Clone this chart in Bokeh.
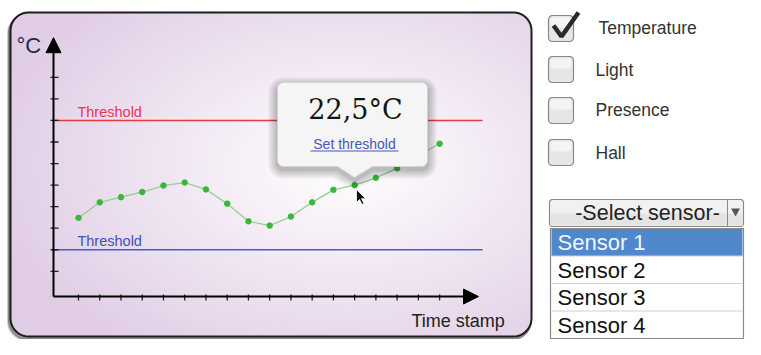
import numpy as np
from bokeh.plotting import figure
from bokeh.models import Range1d, Label, Arrow, NormalHead
from bokeh.embed import file_html
from bokeh.resources import INLINE

# ---------------- data ----------------
time_idx = list(range(1, 19))
temperature = [21.74, 22.10, 22.22, 22.34, 22.49, 22.56, 22.40, 22.07, 21.66,
               21.56, 21.77, 22.10, 22.39, 22.50, 22.67, 22.89, 23.19, 23.46]
y_ticks = [20.5, 21.0, 21.5, 22.0, 22.5, 23.0, 23.5, 24.0, 24.5, 25.0]
x_ticks = list(range(1, 19))
threshold_high = 24.0
threshold_low = 21.0
tooltip_text = "22,5°C"
link_text = "Set threshold"
y_label = "°C"
x_label = "Time stamp"
checkbox_labels = ["Temperature", "Light", "Presence", "Hall"]
checkbox_checked = [True, False, False, False]
select_label = "-Select sensor-"
sensor_options = ["Sensor 1", "Sensor 2", "Sensor 3", "Sensor 4"]
sensor_selected = 0

SANS = "Liberation Sans"
FH = 339


def Y(y):
    return float(FH - y)


def rrect(x0, y0, x1, y1, r, n=10, pointer=None):
    pts = []

    def arc(cx, cy, a0, a1):
        for a in np.linspace(a0, a1, n):
            pts.append((cx + r * np.cos(a), cy + r * np.sin(a)))

    arc(x0 + r, y0 + r, np.pi, 1.5 * np.pi)
    arc(x1 - r, y0 + r, 1.5 * np.pi, 2 * np.pi)
    arc(x1 - r, y1 - r, 0, 0.5 * np.pi)
    if pointer:
        pts.extend(pointer)
    arc(x0 + r, y1 - r, 0.5 * np.pi, np.pi)
    pts.append(pts[0])
    xs = [q[0] for q in pts]
    ys = [FH - q[1] for q in pts]
    return xs, ys


def text(x, y_base, s, size, color, font=SANS, align="left", **kw):
    # y_base = alphabetic baseline in picture pixels; anchor at em-box centre
    return Label(x=x, y=Y(y_base - 0.35 * size), text=s, text_font=font,
                 text_font_size=f"{size}px", text_color=color, text_align=align,
                 text_baseline="middle", **kw)


p = figure(width=745, height=339, output_backend="svg", toolbar_location=None,
           x_range=Range1d(0, 745), y_range=Range1d(0, 339), min_border=0,
           x_axis_location=None, y_axis_location=None, outline_line_color=None,
           background_fill_color="white", border_fill_color="white")
p.xgrid.visible = False
p.ygrid.visible = False
p.extra_x_ranges = {"data": Range1d(-2.672, 32.40)}
p.extra_y_ranges = {"data": Range1d(18.918, 26.783)}
D = dict(x_range_name="data", y_range_name="data")

# ---------------- panel ----------------
PX0, PY0, PX1, PY1, PR = 10, 12, 531, 336, 18
for dx, dy, a in [(-2, 3, 0.25), (-1, 2, 0.45)]:
    xs, ys = rrect(PX0 + dx, PY0 + dy, PX1 + dx, PY1 + dy, PR)
    p.line(xs, ys, line_color="#333333", line_width=3, line_alpha=a)

Wd, Hd = PX1 - PX0, PY1 - PY0
gx = PX0 + np.arange(Wd) + 0.5
gy = PY1 - (np.arange(Hd) + 0.5)
GX, GY = np.meshgrid(gx, gy)
d = np.sqrt(((GX - 345) / 370.0) ** 2 + ((GY - 165) / 235.0) ** 2)
t = np.clip((d - 0.08) / 0.92, 0, 1)
c0 = np.array([253, 251, 253])
c1 = np.array([224, 204, 229])
rgb = c0[None, None, :] * (1 - t[..., None]) + c1[None, None, :] * t[..., None]
inside = np.ones_like(GX, dtype=bool)
for cx, cy in [(PX0 + PR, PY0 + PR), (PX1 - PR, PY0 + PR), (PX1 - PR, PY1 - PR), (PX0 + PR, PY1 - PR)]:
    inx = (GX < PX0 + PR) if cx < 200 else (GX > PX1 - PR)
    iny = (GY < PY0 + PR) if cy < 100 else (GY > PY1 - PR)
    inside &= ~(inx & iny & (((GX - cx) ** 2 + (GY - cy) ** 2) > PR ** 2))
img = np.zeros((Hd, Wd), dtype=np.uint32)
view = img.view(dtype=np.uint8).reshape((Hd, Wd, 4))
view[..., 0] = rgb[..., 0].astype(np.uint8)
view[..., 1] = rgb[..., 1].astype(np.uint8)
view[..., 2] = rgb[..., 2].astype(np.uint8)
view[..., 3] = np.where(inside, 255, 0).astype(np.uint8)
p.image_rgba(image=[img], x=PX0, y=FH - PY1, dw=Wd, dh=Hd)

xs, ys = rrect(PX0, PY0, PX1, PY1, PR)
p.line(xs, ys, line_color="#1e1e1e", line_width=2)

# ---------------- chart ----------------
X0, YB = -0.177, 19.915
X_END, Y_END = 19.83, 25.92
LINE_END = 20.02

p.segment(x0=[X0], y0=[threshold_high], x1=[LINE_END], y1=[threshold_high],
          line_color="#e63b3b", line_width=1.6, **D)
p.segment(x0=[X0], y0=[threshold_low], x1=[LINE_END], y1=[threshold_low],
          line_color="#4262bf", line_width=1.6, **D)
p.add_layout(Label(x=0.95, y=threshold_high, y_offset=8, text="Threshold",
                   text_font=SANS, text_font_size="14.5px", text_color="#e8335a",
                   text_baseline="middle", **D))
p.add_layout(Label(x=0.95, y=threshold_low, y_offset=9, text="Threshold",
                   text_font=SANS, text_font_size="14.5px", text_color="#3a55b5",
                   text_baseline="middle", **D))

p.add_layout(Arrow(end=NormalHead(size=15, fill_color="black", line_color="black"),
                   x_start=X0, y_start=YB, x_end=X_END, y_end=YB,
                   line_width=2, line_color="black", **D))
p.add_layout(Arrow(end=NormalHead(size=15, fill_color="black", line_color="black"),
                   x_start=X0, y_start=YB, x_end=X0, y_end=Y_END,
                   line_width=2, line_color="black", **D))
p.scatter(x=[X0 + 0.05] * len(y_ticks), y=y_ticks, marker="dash", size=8,
          line_color="#222222", line_width=1.3, **D)
p.scatter(x=x_ticks, y=[YB - 0.02] * len(x_ticks), marker="dash", angle=np.pi / 2,
          size=6, line_color="#222222", line_width=1.3, **D)

p.add_layout(text(16, 53, y_label, 22, "#1b2a4a"))
p.add_layout(text(411, 327, x_label, 18, "#222222"))

p.line(time_idx, temperature, line_color="#96cf96", line_width=1.3, **D)
p.scatter(time_idx, temperature, size=5.5, fill_color="#38b838", line_color="#38b838", **D)

# ---------------- tooltip ----------------
TX0, TY0, TX1, TY1 = 277, 82, 427, 166
for k in [9, 7, 5, 3, 1.5]:
    ptr = [(372 + k * 0.5, TY1 + k + 3), (354, 177 + k + 3), (337 - k * 0.5, TY1 + k + 3)]
    xs, ys = rrect(TX0 - k, TY0 - k + 4, TX1 + k, TY1 + k + 3, 6 + k, pointer=ptr)
    p.patch(xs, ys, fill_color="black", fill_alpha=0.055, line_color=None)
xs, ys = rrect(TX0, TY0, TX1, TY1, 6, pointer=[(372, TY1), (354, 177), (337, TY1)])
p.patch(xs, ys, fill_color="#f5f5f5", line_color="#d4d4d4", line_width=1)
p.add_layout(text(355, 118, tooltip_text, 27, "#151515", font="DejaVu Serif", align="center"))
p.add_layout(text(354, 148, link_text, 14, "#4a57b5", align="center"))
p.line([310, 398], [Y(150.5)] * 2, line_color="#4a57b5", line_width=1)

# cursor
cx, cy = 356, 189
cur = [(0, 0), (0, 13), (3, 10), (5.5, 15), (7.5, 14), (5, 9.2), (9.2, 9.2), (0, 0)]
p.patch([cx + a for a, b in cur], [Y(cy + b) for a, b in cur],
        fill_color="#111111", line_color="white", line_width=0.8)

# ---------------- checkboxes ----------------
box_tops = [15, 56, 97, 139]
label_base = [33.5, 76, 116, 159]
label_x = [598, 595, 595, 595]
for lab, chk, bt, lb, lx in zip(checkbox_labels, checkbox_checked, box_tops, label_base, label_x):
    xs, ys = rrect(548, bt, 573, bt + 26, 4)
    p.patch(xs, ys, fill_color="#e6e6e6", line_color="#888888", line_width=1.2)
    xs, ys = rrect(550, bt + 2, 571, bt + 12, 3)
    p.patch(xs, ys, fill_color="#f4f4f4", line_color=None)
    if chk:
        p.line([553, 561, 578], [Y(bt + 10), Y(bt + 21), Y(bt - 3)],
               line_color="#2b2b2b", line_width=4.5)
    p.add_layout(text(lx, lb, lab, 17.5, "#333333"))

# ---------------- select ----------------
SR = 743
xs, ys = rrect(549, 199, SR, 226, 3)
p.patch(xs, ys, fill_color="#f1f1f1", line_color="#8a8a8a", line_width=1.2)
p.quad(left=550, right=SR - 1, top=Y(213), bottom=Y(225), fill_color="#e4e4e4", line_color=None)
p.line([727, 727], [Y(199), Y(226)], line_color="#8a8a8a", line_width=1)
p.patch([730.5, 739.5, 735], [Y(208), Y(208), Y(216)],
        fill_color="#555555", line_color=None)
p.add_layout(text(647, 220, select_label, 21.5, "#222222", align="center"))

# list
LT, RH = 228, 27.5
p.quad(left=551, right=SR, top=Y(LT), bottom=Y(LT + 4 * RH + 1),
       fill_color="#888888", fill_alpha=0.25, line_color=None)
p.quad(left=550, right=SR, top=Y(LT), bottom=Y(LT + 4 * RH),
       fill_color="white", line_color="#8a8a8a", line_width=1.2)
for i, s in enumerate(sensor_options):
    top = LT + i * RH
    if i == sensor_selected:
        p.quad(left=551, right=SR - 1, top=Y(top + 0.5), bottom=Y(top + RH),
               fill_color="#4f88cb", line_color=None)
    if i > 0:
        p.line([551, SR - 1], [Y(top)] * 2, line_color="#d0d0d0", line_width=1)
    p.add_layout(text(557, top + 22, s, 22,
                      "#f0f6ff" if i == sensor_selected else "#111111"))

open("out.html", "w").write(file_html(p, INLINE))
